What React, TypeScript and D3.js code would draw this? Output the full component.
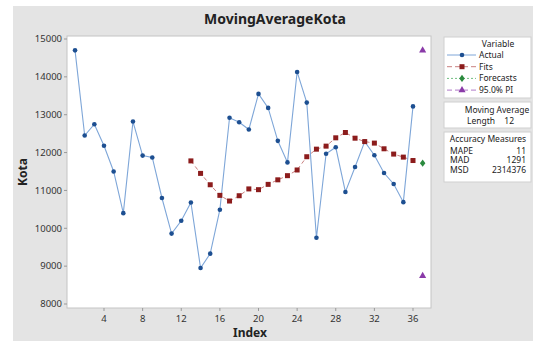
import React from "react";
import * as d3 from "d3";

const index = d3.range(1, 37);
const actual = [14700, 12450, 12750, 12180, 11500, 10400, 12820, 11920, 11870, 10800, 9860, 10200,
  10680, 8950, 9330, 10490, 12920, 12800, 12610, 13550, 13180, 12310, 11740, 14130,
  13320, 9750, 11970, 12140, 10960, 11620, 12290, 11930, 11460, 11170, 10690, 13220];
const fitIndex = d3.range(13, 37);
const fits = [11780, 11450, 11150, 10870, 10720, 10860, 11040, 11020, 11160, 11280, 11390, 11540,
  11890, 12090, 12170, 12390, 12530, 12380, 12290, 12250, 12100, 11960, 11880, 11790];
const forecastIndex = [37];
const forecasts = [11720];
const piUpper = [14700];
const piLower = [8740];
const xTicks = [4, 8, 12, 16, 20, 24, 28, 32, 36];
const yTicks = [8000, 9000, 10000, 11000, 12000, 13000, 14000, 15000];
const accuracy = [["MAPE", "11"], ["MAD", "1291"], ["MSD", "2314376"]];

const W = 533, H = 341;
const PL = 67, PR = 431, PT = 36, PB = 308;
const FONT = "'Noto Sans', 'Open Sans', sans-serif";
const BLUE_LINE = "#7ea6d8";
const BLUE = "#1d4f91";
const RED = "#8c1c1c";
const RED_LINE = "#c98080";
const GREEN = "#2a8a3e";
const PURPLE = "#8a3aa8";

export default function App() {
  const x = d3.scaleLinear().domain([4, 36]).range([104, 413]);
  const y = d3.scaleLinear().domain([8000, 15000]).range([304, 39]);
  const line = d3.line<[number, number]>().x(d => x(d[0])).y(d => y(d[1]));
  const actualPts: [number, number][] = index.map((i, k) => [i, actual[k]]);
  const fitPts: [number, number][] = fitIndex.map((i, k) => [i, fits[k]]);
  const tri = d3.symbol().type(d3.symbolTriangle).size(22)();
  const dia = d3.symbol().type(d3.symbolDiamond).size(18)();

  const legendRows = [
    { label: "Actual", color: BLUE, lc: BLUE_LINE, dash: "", m: "circle" },
    { label: "Fits", color: RED, lc: RED_LINE, dash: "5,3", m: "square" },
    { label: "Forecasts", color: GREEN, lc: "#6fbf80", dash: "2,2", m: "diamond" },
    { label: "95.0% PI", color: PURPLE, lc: "#b07ac8", dash: "5,3", m: "tri" },
  ];
  const marker = (m: string, cx: number, cy: number, color: string, key?: any) => {
    if (m === "circle") return <circle key={key} cx={cx} cy={cy} r={2.3} fill={color} />;
    if (m === "square") return <rect key={key} x={cx - 2.5} y={cy - 2.5} width={5} height={5} fill={color} />;
    if (m === "diamond") return <path key={key} d={dia!} transform={`translate(${cx},${cy}) scale(1.2,0.9)`} fill={color} />;
    return <path key={key} d={tri!} transform={`translate(${cx},${cy})`} fill={color} />;
  };

  return (
    <div style={{ position: "absolute", left: 0, top: 0 }}>
      <svg width={W} height={H} style={{ display: "block", fontFamily: FONT }}>
        <rect x={0} y={0} width={W} height={H} fill="#ffffff" />
        <rect x={13} y={6} width={W - 13} height={H - 6} fill="#e4e4e4" />
        <rect x={PL} y={PT} width={PR - PL} height={PB - PT} fill="#ffffff" stroke="#c4c4c4" strokeWidth={1} />
        <text x={275} y={24} textAnchor="middle" fontSize={14} fontWeight="bold" fill="#222">MovingAverageKota</text>
        {yTicks.map(t => (
          <g key={t}>
            <line x1={PL - 3} x2={PL} y1={y(t)} y2={y(t)} stroke="#999" />
            <text x={PL - 5} y={y(t)} dy="0.35em" textAnchor="end" fontSize={9.5} fill="#333">{t}</text>
          </g>
        ))}
        {xTicks.map(t => (
          <g key={t}>
            <line x1={x(t)} x2={x(t)} y1={PB} y2={PB + 3} stroke="#999" />
            <text x={x(t)} y={PB + 14} textAnchor="middle" fontSize={9.5} fill="#333">{t}</text>
          </g>
        ))}
        <text x={250} y={337} textAnchor="middle" fontSize={12} fontWeight="bold" fill="#222">Index</text>
        <text transform={`translate(27,172) rotate(-90)`} textAnchor="middle" fontSize={12} fontWeight="bold" fill="#222">Kota</text>

        <path d={line(fitPts)!} fill="none" stroke={RED_LINE} strokeWidth={1} strokeDasharray="4,3" />
        <path d={line(actualPts)!} fill="none" stroke={BLUE_LINE} strokeWidth={1.1} />
        {actualPts.map((p, k) => marker("circle", x(p[0]), y(p[1]), BLUE, "a" + k))}
        {fitPts.map((p, k) => marker("square", x(p[0]), y(p[1]), RED, "f" + k))}
        {forecastIndex.map((i, k) => marker("diamond", x(i), y(forecasts[k]), GREEN, "g" + k))}
        {forecastIndex.map((i, k) => marker("tri", x(i), y(piUpper[k]), PURPLE, "u" + k))}
        {forecastIndex.map((i, k) => marker("tri", x(i), y(piLower[k]), PURPLE, "l" + k))}

        <rect x={444} y={37} width={87} height={61} fill="#fff" stroke="#cfcfcf" />
        <text x={498} y={47} textAnchor="middle" fontSize={8.5} fill="#222">Variable</text>
        {legendRows.map((r, k) => {
          const cy = 55 + k * 11.7;
          return (
            <g key={r.label}>
              <line x1={447} x2={476} y1={cy} y2={cy} stroke={r.lc} strokeWidth={1} strokeDasharray={r.dash} />
              {marker(r.m, 462, cy, r.color)}
              <text x={479} y={cy} dy="0.35em" fontSize={8.5} fill="#222">{r.label}</text>
            </g>
          );
        })}
        <rect x={444} y={102} width={87} height={26} fill="#fff" stroke="#cfcfcf" />
        <text x={497} y={113} textAnchor="middle" fontSize={8.5} fill="#222">Moving Average</text>
        <text x={467} y={124} fontSize={8.5} fill="#222">Length</text>
        <text x={514} y={124} textAnchor="end" fontSize={8.5} fill="#222">12</text>
        <rect x={444} y={132} width={87} height={50} fill="#fff" stroke="#cfcfcf" />
        <text x={488} y={142} textAnchor="middle" fontSize={8.5} fill="#222">Accuracy Measures</text>
        {accuracy.map((a, k) => (
          <g key={a[0]}>
            <text x={450} y={151 + k * 9.5} dy="0.35em" fontSize={8.5} fill="#222">{a[0]}</text>
            <text x={526} y={151 + k * 9.5} dy="0.35em" textAnchor="end" fontSize={8.5} fill="#222">{a[1]}</text>
          </g>
        ))}
      </svg>
    </div>
  );
}
